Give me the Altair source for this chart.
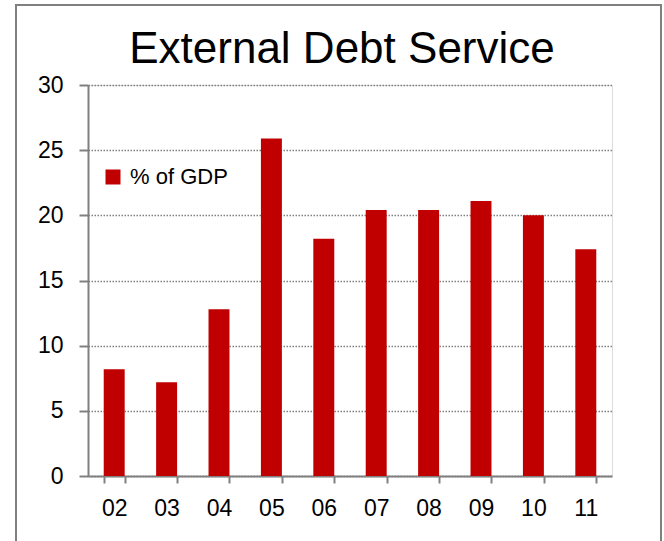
import altair as alt
import pandas as pd

years = ["02", "03", "04", "05", "06", "07", "08", "09", "10", "11"]
debt_service = [8.2, 7.2, 12.8, 25.9, 18.2, 20.4, 20.4, 21.1, 20.0, 17.4]
series_name = "% of GDP"
y_ticks = [0, 5, 10, 15, 20, 25, 30]
chart_title = "External Debt Service"

df = pd.DataFrame({"year": years, "value": debt_service, "series": [series_name] * len(years)})

FONT = "Liberation Sans, Arial, sans-serif"
GREY = "#808080"

bars = alt.Chart(df).mark_bar(color="#C00000").encode(
    x=alt.X(
        "year:N",
        sort=years,
        title=None,
        scale=alt.Scale(paddingInner=0.6, paddingOuter=0.3),
        axis=alt.Axis(
            labelAngle=0,
            tickBand="extent",
            tickSize=7,
            tickWidth=2,
            tickColor=GREY,
            domainColor=GREY,
            domainWidth=2,
            labelFont=FONT,
            labelFontSize=23,
            labelColor="black",
            labelPadding=14,
            grid=False,
        ),
    ),
    y=alt.Y(
        "value:Q",
        title=None,
        scale=alt.Scale(domain=[0, 30], nice=False),
        axis=alt.Axis(
            values=y_ticks,
            tickSize=9,
            tickWidth=2,
            tickColor=GREY,
            domainColor=GREY,
            domainWidth=2,
            labelFont=FONT,
            labelFontSize=23,
            labelColor="black",
            labelPadding=16,
            grid=True,
            gridColor=GREY,
            gridDash=[1.5, 1.5],
            gridWidth=1.5,
        ),
    ),
    fill=alt.Fill(
        "series:N",
        scale=alt.Scale(domain=[series_name], range=["#C00000"]),
        legend=alt.Legend(
            title=None,
            orient="none",
            legendX=14,
            legendY=81,
            symbolType="square",
            symbolSize=225,
            symbolStrokeWidth=0,
            labelFont=FONT,
            labelFontSize=22,
            labelColor="black",
            labelOffset=6,
            padding=0,
        ),
    ),
)

border = alt.Chart(pd.DataFrame({"k": [0]})).mark_rect(
    fill=None, stroke=GREY, strokeWidth=2
).encode(
    x=alt.value(-72), x2=alt.value(573), y=alt.value(-80), y2=alt.value(470)
)

title = alt.Chart(pd.DataFrame({"t": [chart_title]})).mark_text(
    font=FONT, fontSize=44, color="black", align="center", baseline="alphabetic"
).encode(
    text="t:N", x=alt.value(254), y=alt.value(-22)
)

chart = alt.layer(border, bars, title).properties(
    width=524,
    height=391,
    padding={"left": 88, "top": 85, "right": 52, "bottom": 65},
    autosize=alt.AutoSizeParams(type="none"),
).configure_view(stroke=None).configure(background="white")

chart.save("out.html", embed_options={"renderer": "svg", "actions": False})
